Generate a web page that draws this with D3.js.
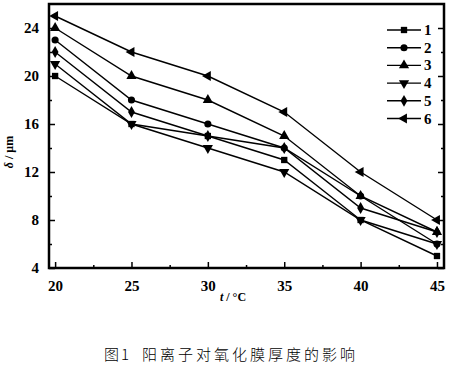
<!DOCTYPE html>
<html>
<head>
<meta charset="utf-8">
<script src="https://cdn.jsdelivr.net/npm/d3@7"></script>
<style>
body { margin: 0; background: #fff; }
</style>
</head>
<body>
<script>
var width = 450;
var height = 365;

// temperature t / °C
var temps = [20, 25, 30, 35, 40, 45];
var seriesNames = ["1", "2", "3", "4", "5", "6"];
// thickness δ / μm, one array per series
var s1 = [20, 16, 15, 13, 8, 5];
var s2 = [23, 18, 16, 14, 10, 6];
var s3 = [24, 20, 18, 15, 10, 7];
var s4 = [21, 16, 14, 12, 8, 6];
var s5 = [22, 17, 15, 14, 9, 7];
var s6 = [25, 22, 20, 17, 12, 8];
var xTicks = [20, 25, 30, 35, 40, 45];
var yTicks = [4, 8, 12, 16, 20, 24];

var allSeries = [s1, s2, s3, s4, s5, s6];
var shapes = [d3.symbolSquare, d3.symbolCircle, d3.symbolTriangle, "down", d3.symbolDiamond, "left"];

var margin = {top: 4, left: 49, right: 6, bottom: 97};

var svg = d3.select("body")
  .append("svg")
  .attr("width", width)
  .attr("height", height);

var xScale = d3.scaleLinear()
  .domain([19.6, 45.46])
  .range([margin.left, width - margin.right]);

var yScale = d3.scaleLinear()
  .domain([4, 26])
  .range([height - margin.bottom, margin.top]);

var x0 = margin.left, x1 = width - margin.right;
var y0 = height - margin.bottom, y1 = margin.top;

// minor ticks
var minorX = [22.5, 27.5, 32.5, 37.5, 42.5];
var minorY = [6, 10, 14, 18, 22];

var xAxis = svg.append("g")
  .attr("transform", "translate(0," + y0 + ")")
  .call(d3.axisBottom(xScale).tickValues(xTicks).tickSize(-6).tickPadding(12).tickFormat(d3.format("d")));
svg.append("g")
  .attr("transform", "translate(0," + y0 + ")")
  .call(d3.axisBottom(xScale).tickValues(minorX).tickSize(-3).tickFormat(""));

var yAxis = svg.append("g")
  .attr("transform", "translate(" + x0 + ",0)")
  .call(d3.axisLeft(yScale).tickValues(yTicks).tickSize(-6).tickPadding(10).tickFormat(d3.format("d")));
svg.append("g")
  .attr("transform", "translate(" + x0 + ",0)")
  .call(d3.axisLeft(yScale).tickValues(minorY).tickSize(-3).tickFormat(""));

svg.append("g")
  .attr("transform", "translate(" + x1 + ",0)")
  .call(d3.axisRight(yScale).tickValues(yTicks).tickSize(-6).tickFormat(""));
svg.append("g")
  .attr("transform", "translate(" + x1 + ",0)")
  .call(d3.axisRight(yScale).tickValues(minorY).tickSize(-3).tickFormat(""));

svg.selectAll(".domain").remove();
svg.selectAll(".tick line").attr("stroke", "#000").attr("stroke-width", 1.5);
svg.selectAll(".tick text")
  .attr("font-family", "'Liberation Serif', serif")
  .attr("font-weight", "bold")
  .attr("font-size", 15)
  .attr("fill", "#000");

// frame
svg.append("rect")
  .attr("x", x0).attr("y", y1)
  .attr("width", x1 - x0).attr("height", y0 - y1)
  .attr("fill", "none").attr("stroke", "#000").attr("stroke-width", 2.5);

var line = d3.line()
  .x(function(d, i) { return xScale(temps[i]); })
  .y(function(d) { return yScale(d); });

function marker(g, k, cx, cy) {
  var sh = shapes[k];
  if (sh === "down" || sh === "left") {
    g.append("path")
      .attr("d", d3.symbol().type(d3.symbolTriangle).size(45)())
      .attr("transform", "translate(" + cx + "," + cy + ") rotate(" + (sh === "down" ? 180 : -90) + ")")
      .attr("fill", "#000");
  } else {
    g.append("path")
      .attr("d", d3.symbol().type(sh).size(sh === d3.symbolTriangle ? 45 : 40)())
      .attr("transform", "translate(" + cx + "," + cy + ")")
      .attr("fill", "#000");
  }
}

allSeries.forEach(function(vals, k) {
  var g = svg.append("g");
  g.append("path")
    .datum(vals)
    .attr("d", line)
    .attr("fill", "none")
    .attr("stroke", "#000")
    .attr("stroke-width", 1.4);
  vals.forEach(function(v, i) {
    marker(g, k, xScale(temps[i]), yScale(v));
  });
});

// legend
var legend = svg.append("g");
seriesNames.forEach(function(name, k) {
  var ly = 30 + k * 17.7;
  legend.append("line")
    .attr("x1", 387).attr("x2", 421)
    .attr("y1", ly).attr("y2", ly)
    .attr("stroke", "#000").attr("stroke-width", 1.4);
  marker(legend, k, 404, ly);
  legend.append("text")
    .attr("x", 424).attr("y", ly + 5)
    .attr("font-family", "'Liberation Serif', serif")
    .attr("font-weight", "bold")
    .attr("font-size", 15)
    .text(name);
});

// axis titles
var yTitle = svg.append("text")
  .attr("transform", "translate(13,152) rotate(-90)")
  .attr("text-anchor", "middle")
  .attr("font-family", "'Liberation Serif', serif")
  .attr("font-weight", "bold")
  .attr("font-size", 12);
yTitle.append("tspan").attr("font-style", "italic").text("δ");
yTitle.append("tspan").text(" / μm");

var xTitle = svg.append("text")
  .attr("x", 233).attr("y", 301)
  .attr("text-anchor", "middle")
  .attr("font-family", "'Liberation Serif', serif")
  .attr("font-weight", "bold")
  .attr("font-size", 12);
xTitle.append("tspan").attr("font-style", "italic").text("t");
xTitle.append("tspan").text(" / °C");

// caption
var caption = svg.append("text")
  .attr("y", 360)
  .attr("font-family", "'Noto Sans CJK SC', sans-serif")
  .attr("font-weight", 300)
  .attr("font-size", 15);
caption.append("tspan").attr("x", 104).text("图");
caption.append("tspan").attr("x", 121).text("1");
caption.append("tspan").attr("x", 142).attr("letter-spacing", 3).text("阳离子对氧化膜厚度的影响");
</script>
</body>
</html>
